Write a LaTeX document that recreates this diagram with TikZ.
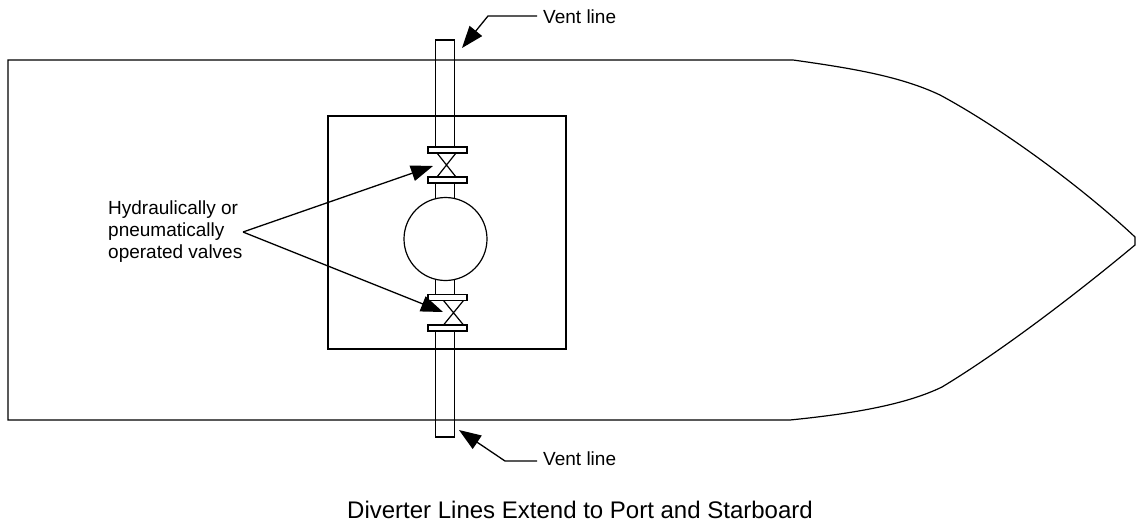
\documentclass[tikz,border=0pt]{standalone}
\usepackage{fontspec}
\setmainfont{Liberation Sans}
\usetikzlibrary{arrows.meta}
\tikzset{
  ln/.style={line width=1.2pt,black},
  lnthin/.style={line width=1.1pt,black},
  lead/.style={line width=1.3pt,black,-{Triangle[length=22pt,width=16pt]}},
  flange/.style={draw=black,fill=white,line width=1.2pt,minimum width=39pt,minimum height=6pt,inner sep=0pt,outer sep=0pt},
  lab/.style={inner sep=0pt,font=\fontsize{19}{19}\selectfont,anchor=base west},
  captext/.style={inner sep=0pt,font=\fontsize{24}{26}\selectfont,anchor=base}
}
\begin{document}
\begin{tikzpicture}[x=1pt,y=-1pt]
\useasboundingbox (0,0) rectangle (1136,525);
% hull
\draw[ln] (793,60) -- (8,60) -- (8,420) -- (790,420)
  .. controls (850,414) and (905,405) .. (942,387)
  .. controls (1000,352) and (1075,295) .. (1135,245)
  -- (1135,237)
  .. controls (1085,190) and (1005,130) .. (940,95)
  .. controls (900,76) and (850,68) .. (793,60);
% box
\node[draw=black,line width=1.2pt,minimum width=238pt,minimum height=233pt,inner sep=0pt,outer sep=0pt] (box) at (447,232.5) {};
% pipes
\coordinate (ptl) at (435.5,150); \coordinate (ptr) at (454.5,150);
\coordinate (ptlt) at (435.5,40); \coordinate (ptrt) at (454.5,40);
\draw[lnthin] (ptl) -- (ptlt) -- (ptrt) -- (ptr);
\coordinate (pbl) at (435.5,328); \coordinate (pbr) at (454.5,328);
\coordinate (pblb) at (435.5,437); \coordinate (pbrb) at (454.5,437);
\draw[lnthin] (pbl) -- (pblb) -- (pbrb) -- (pbr);
% tank stubs
\draw[lnthin] (435.5,180) -- (435.5,203) (454.5,180) -- (454.5,203);
\draw[lnthin] (435.5,275) -- (435.5,298) (454.5,275) -- (454.5,298);
% valves
\node[flange] (f1) at (447.5,150) {};
\node[flange] (f2) at (447.5,180) {};
\node[flange] (f3) at (447.5,297.5) {};
\node[flange] (f4) at (447.5,328) {};
\draw[ln] (437,153) -- (456,177) (456,153) -- (437,177);
\draw[ln] (443.5,300.5) -- (463.5,325) (463.5,300.5) -- (443.5,325);
% tank
\node[circle,draw=black,fill=white,line width=1.2pt,minimum size=83pt,inner sep=0pt,outer sep=0pt] (tank) at (445.5,239) {};
% labels
\node[lab] (v1) at (543,23) {Vent line};
\node[lab] (v2) at (543,465) {Vent line};
\node[lab] (h1) at (108,214) {Hydraulically or};
\node[lab] (h2) at (108,236) {pneumatically};
\node[lab] (h3) at (108,258) {operated valves};
\node[captext] (title) at (580,518) {Diverter Lines Extend to Port and Starboard};
% leaders
\coordinate (s1) at (537,16); \coordinate (e1) at (488,16); \coordinate (t1) at (462,48);
\coordinate (s2) at (537,461); \coordinate (e2) at (505,461); \coordinate (t2) at (459,430);
\coordinate (j) at (243,232); \coordinate (t3) at (433,166); \coordinate (t4) at (443,312);
\draw[lead] (s1) -- (e1) -- (t1);
\draw[lead] (s2) -- (e2) -- (t2);
\draw[lead] (j) -- (t3);
\draw[lead] (j) -- (t4);
\end{tikzpicture}
\end{document}
